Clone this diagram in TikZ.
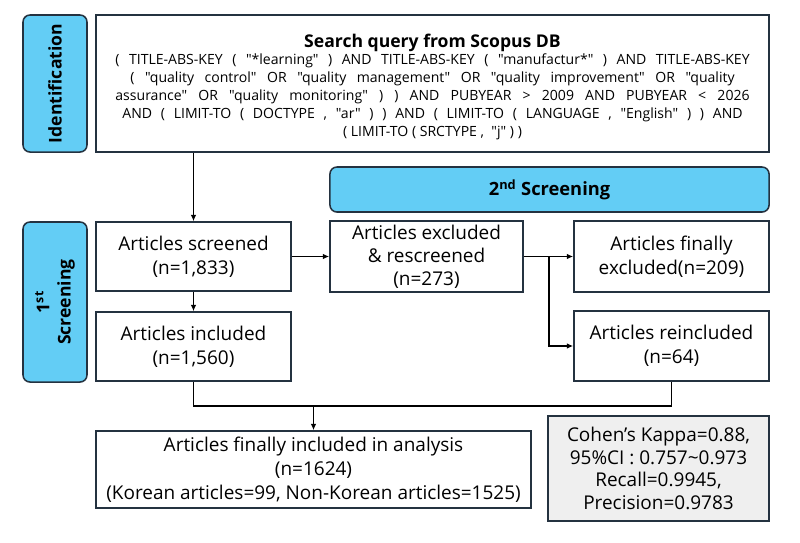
\documentclass[tikz,border=0pt]{standalone}
\usepackage{fontspec}
\setmainfont{Open Sans}[Ligatures=TeXOff]
\usetikzlibrary{arrows.meta,positioning}
\definecolor{stageblue}{RGB}{99,205,245}
\definecolor{boxline}{RGB}{36,50,64}
\definecolor{statgray}{RGB}{239,239,239}
\tikzset{>={Latex[length=4.5pt,width=4pt]},
  stage/.style={draw=boxline,line width=1.1pt,fill=stageblue,rounded corners=5pt,
    inner sep=0pt,align=center,font=\fontsize{12.5}{15}\selectfont\bfseries},
  stepbox/.style={draw=boxline,line width=1.1pt,fill=white,inner sep=0pt,
    align=center,font=\fontsize{13.5}{17}\selectfont},
  link/.style={line width=0.9pt}}

\begin{document}
\begin{tikzpicture}[x=0.025cm,y=-0.025cm]
    \useasboundingbox (0,0) rectangle (800,542);

    \node [stage,rotate=90,minimum width=3.425cm,minimum height=1.6cm] (ident) at (55,83.5) {Identification};
    \node [stepbox,minimum width=16.825cm,minimum height=3.425cm,font=\fontsize{10}{12.8}\selectfont] (query) at (432.5,83.5) {};
    \node [align=center,inner sep=0pt,font=\fontsize{10}{12.8}\selectfont] (terms) at (432.5,87)
      {{\fontsize{12.5}{15}\selectfont\bfseries Search query from Scopus DB}\\[-1pt]
       \makebox[15.85cm][s]{( TITLE-ABS-KEY ( "*learning" ) AND TITLE-ABS-KEY ( "manufactur*" ) AND TITLE-ABS-KEY}\\
       \makebox[15.1cm][s]{( "quality control" OR "quality management" OR "quality improvement" OR "quality}\\
       \makebox[15.85cm][s]{assurance" OR "quality monitoring" ) ) AND PUBYEAR > 2009 AND PUBYEAR < 2026}\\
       \makebox[15.5cm][s]{AND ( LIMIT-TO ( DOCTYPE , "ar" ) ) AND ( LIMIT-TO ( LANGUAGE , "English" ) ) AND}\\
       ( LIMIT-TO ( SRCTYPE ,\ \ "j" ) )};

    \node [stage,minimum width=10.975cm,minimum height=1.125cm,font=\fontsize{13}{15}\selectfont\bfseries] (second) at (549.5,189.5) {2\textsuperscript{nd} Screening};
    \node [stage,rotate=90,minimum width=4cm,minimum height=1.6cm] (first) at (55,302) {1\textsuperscript{st}\\Screening};

    \node [stepbox,minimum width=4.875cm,minimum height=1.725cm] (screened) at (193.5,256.5) {Articles screened\\(n=1,833)};
    \node [stepbox,minimum width=4.875cm,minimum height=1.725cm] (included) at (193.5,346.5) {Articles included\\(n=1,560)};
    \node [stepbox,minimum width=4.825cm,minimum height=1.775cm,font=\fontsize{13.5}{16.5}\selectfont] (excluded) at (426.5,256.5) {Articles excluded\\\& rescreened\\(n=273)};
    \node [stepbox,minimum width=4.875cm,minimum height=1.775cm] (dropped) at (671.5,256.5) {Articles finally\\excluded(n=209)};
    \node [stepbox,minimum width=4.875cm,minimum height=1.75cm] (readded) at (671.5,346) {Articles reincluded\\(n=64)};
    \node [stepbox,minimum width=10.875cm,minimum height=1.925cm] (final) at (313.5,469.5)
      {Articles finally included in analysis\\(n=1624)\\(Korean articles=99, Non-Korean articles=1525)};
    \node [stepbox,fill=statgray,minimum width=5.525cm,minimum height=2.625cm,font=\fontsize{13.5}{16}\selectfont] (kappa) at (658.5,468.5)
      {Cohen’s Kappa=0.88,\\95\%CI : 0.757\textasciitilde0.973\\Recall=0.9945,\\Precision=0.9783};

    \coordinate (split) at (549,256.5);
    \coordinate (merge) at (313.5,406);

    \draw [link,->] (query.south -| screened.north) -- (screened.north);
    \draw [link,->] (screened) -- (included);
    \draw [link,->] (screened) -- (excluded);
    \draw [link,->] (excluded) -- (dropped);
    \draw [link,->] (split) |- (readded);
    \draw [link] (included) |- (merge) -| (readded);
    \draw [link,->] (merge) -- (final);
\end{tikzpicture}
\end{document}
